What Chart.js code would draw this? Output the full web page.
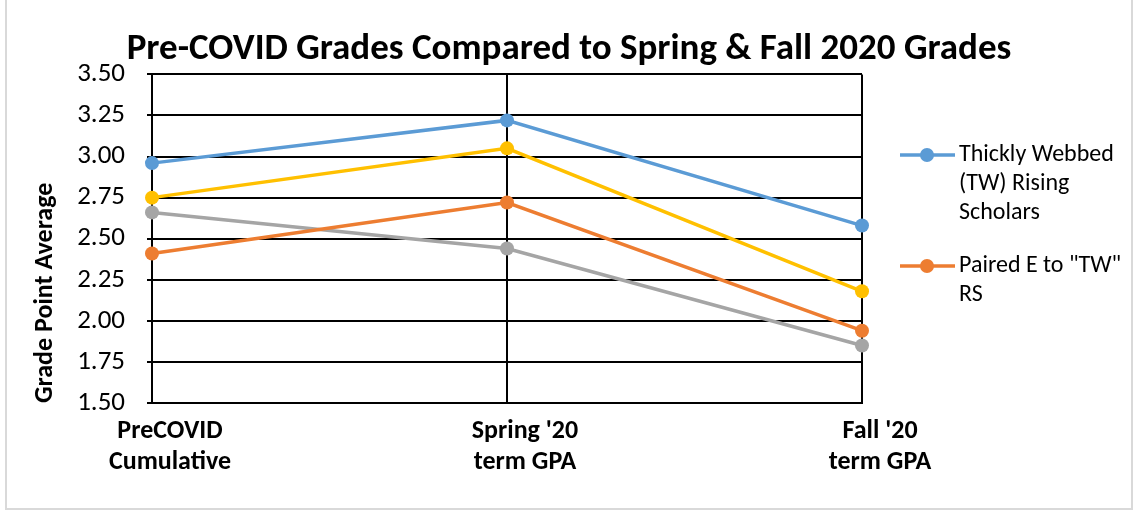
<!DOCTYPE html>
<html>
<head>
<meta charset="utf-8">
<script src="https://cdn.jsdelivr.net/npm/chart.js@4.4.1/dist/chart.umd.min.js"></script>
<style>
  html, body { margin: 0; padding: 0; background: #fff; }
  #wrap { position: relative; width: 1138px; height: 514px; }
  #frame { position: absolute; left: 5px; top: -2px; width: 1128px; height: 512px; border: 2px solid #d9d9d9; box-sizing: border-box; pointer-events: none; }
</style>
</head>
<body>
<div id="wrap">
  <canvas id="myChart" width="1138" height="514"></canvas>
  <div id="frame"></div>
</div>
<script>
const ctx = document.getElementById('myChart');

const categories = [['PreCOVID', 'Cumulative'], ["Spring '20", 'term GPA'], ["Fall '20", 'term GPA']];
const seriesNames = ['Thickly Webbed (TW) Rising Scholars', 'Paired E to "TW" RS', 'Series3', 'Series4'];
const legendLines = [['Thickly Webbed', '(TW) Rising', 'Scholars'], ['Paired E to "TW"', 'RS']];
const twScholars = [2.96, 3.22, 2.58];
const pairedE = [2.41, 2.72, 1.94];
const series3 = [2.66, 2.44, 1.85];
const series4 = [2.75, 3.05, 2.18];
const colors = ['#5B9BD5', '#ED7D31', '#A5A5A5', '#FFC000'];
const yTicks = [1.5, 1.75, 2, 2.25, 2.5, 2.75, 3, 3.25, 3.5];

const FONT = "Calibri, Carlito, 'Open Sans', sans-serif";

function makeSet(i, values) {
    return {
        label: seriesNames[i],
        data: values,
        borderColor: colors[i],
        backgroundColor: colors[i],
        borderWidth: 3.5,
        pointRadius: 7,
        pointHoverRadius: 7,
        pointBorderWidth: 0,
        tension: 0,
    };
}

// legend drawn by hand: only the first two series show, wrapped like the original
const sideLegend = {
    id: 'sideLegend',
    afterDraw: (chart) => {
        const c = chart.ctx;
        const area = chart.chartArea;
        const x0 = area.right + 38;
        const tops = [155, 266];
        c.save();
        c.font = "24px " + FONT;
        c.textBaseline = 'middle';
        for (let i = 0; i < legendLines.length; i++) {
            const y = tops[i];
            c.strokeStyle = colors[i];
            c.lineWidth = 3.5;
            c.beginPath();
            c.moveTo(x0, y);
            c.lineTo(x0 + 55, y);
            c.stroke();
            c.fillStyle = colors[i];
            c.beginPath();
            c.arc(x0 + 27, y, 7, 0, Math.PI * 2);
            c.fill();
            c.fillStyle = '#000';
            legendLines[i].forEach((t, k) => c.fillText(t, x0 + 59, y + k * 29));
        }
        c.restore();
    }
};

const chart = new Chart(ctx, {
    type: 'line',
    data: {
        labels: categories,
        datasets: [makeSet(0, twScholars), makeSet(1, pairedE), makeSet(2, series3), makeSet(3, series4)]
    },
    options: {
        responsive: false,
        animation: false,
        layout: { padding: 0 },
        plugins: {
            legend: { display: false },
            tooltip: { enabled: false },
            title: {
                display: true,
                text: 'Pre-COVID Grades Compared to Spring & Fall 2020 Grades',
                color: '#000',
                font: { family: FONT, size: 37, weight: 'bold' },
                padding: { top: 28, bottom: 2 }
            }
        },
        scales: {
            x: {
                offset: false,
                afterFit: (s) => { s.height = 111; },
                grid: { color: '#000', lineWidth: 2, drawTicks: false },
                border: { color: '#000', width: 2 },
                ticks: {
                    color: '#000',
                    font: { family: FONT, size: 26, weight: 'bold' },
                    padding: 13,
                    labelOffset: 18,
                    maxRotation: 0,
                    autoSkip: false
                }
            },
            y: {
                min: 1.5,
                max: 3.5,
                afterFit: (s) => { s.width = 152; },
                afterBuildTicks: (axis) => { axis.ticks = yTicks.map(v => ({ value: v })); },
                grid: { color: '#000', lineWidth: 2, tickLength: 5 },
                border: { color: '#000', width: 2 },
                ticks: {
                    color: '#000',
                    font: { family: FONT, size: 27 },
                    padding: 22,
                    callback: (v) => Number(v).toFixed(2)
                },
                title: {
                    display: true,
                    text: 'Grade Point Average',
                    align: 'start',
                    color: '#000',
                    font: { family: FONT, size: 26, weight: 'bold' },
                    padding: { top: 30, bottom: 0 }
                }
            },
            // empty right-hand scale that keeps room for the legend
            side: {
                position: 'right',
                min: 0,
                max: 1,
                afterFit: (s) => { s.width = 276; },
                grid: { display: false },
                border: { display: false },
                ticks: { display: false }
            }
        }
    },
    plugins: [sideLegend]
});
</script>
</body>
</html>
